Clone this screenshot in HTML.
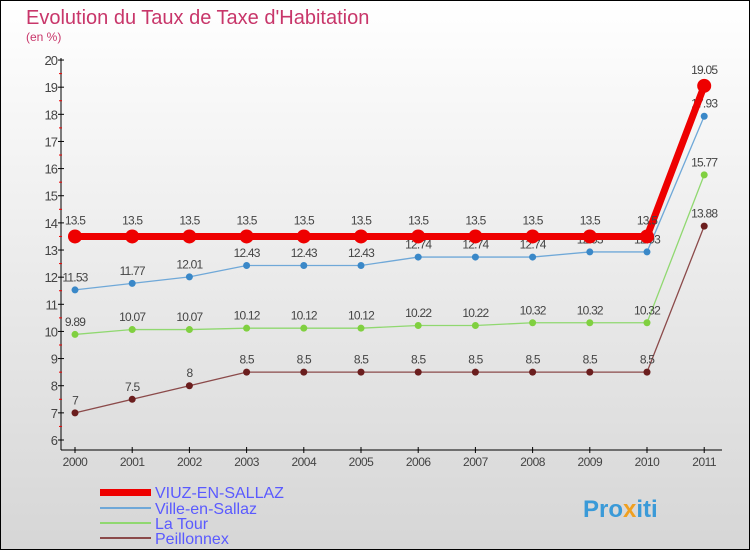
<!DOCTYPE html>
<html><head><meta charset="utf-8"><style>
body{margin:0}
svg{display:block;font-family:"Liberation Sans","DejaVu Sans",sans-serif}
</style></head><body>
<svg id="c" width="750" height="550">
<defs><linearGradient id="bg" x1="0" y1="0" x2="0" y2="1"><stop offset="0" stop-color="#ffffff"/><stop offset="1" stop-color="#d6d6d6"/></linearGradient></defs>
<rect x="0.5" y="0.5" width="749" height="549" fill="url(#bg)" stroke="#000"/>
<text x="26" y="24" font-size="20" fill="#c8366a">Evolution du Taux de Taxe d'Habitation</text>
<text x="26" y="41" font-size="12" fill="#c8366a">(en %)</text>
<g id="axes"></g><g id="series"></g>
<g>
<rect x="100" y="489" width="51" height="7" fill="#e00"/>
<text x="155" y="498" font-size="16" fill="#5a5aff">VIUZ-EN-SALLAZ</text>
<line x1="100" y1="508" x2="151" y2="508" stroke="#6fa8d8" stroke-width="2"/>
<text x="155" y="514" font-size="16" fill="#5a5aff">Ville-en-Sallaz</text>
<line x1="100" y1="523" x2="151" y2="523" stroke="#90d870" stroke-width="2"/>
<text x="155" y="529" font-size="16" fill="#5a5aff">La Tour</text>
<line x1="100" y1="538" x2="151" y2="538" stroke="#8b4a4a" stroke-width="2"/>
<text x="155" y="544" font-size="16" fill="#5a5aff">Peillonnex</text>
</g>
<text x="583" y="517" font-size="24" font-weight="bold" fill="#3a9ad8">Pro<tspan fill="#f0a020">x</tspan>iti</text>
</svg>
<script>
const years=["2000","2001","2002","2003","2004","2005","2006","2007","2008","2009","2010","2011"];
const viuz=[13.5,13.5,13.5,13.5,13.5,13.5,13.5,13.5,13.5,13.5,13.5,19.05];
const ville=[11.53,11.77,12.01,12.43,12.43,12.43,12.74,12.74,12.74,12.93,12.93,17.93];
const latour=[9.89,10.07,10.07,10.12,10.12,10.12,10.22,10.22,10.32,10.32,10.32,15.77];
const peil=[7,7.5,8,8.5,8.5,8.5,8.5,8.5,8.5,8.5,8.5,13.88];
const yTicks=[6,7,8,9,10,11,12,13,14,15,16,17,18,19,20];
const NS="http://www.w3.org/2000/svg";
const X=i=>75+i*57.2, Y=v=>440-(v-6)*27.14;
function mk(t,a,p){const e=document.createElementNS(NS,t);for(const k in a)e.setAttribute(k,a[k]);p.appendChild(e);return e;}
const ax=document.getElementById('axes'),sg=document.getElementById('series');
let l=mk('line',{x1:61,y1:58,x2:61,y2:450,stroke:'#000'},ax);


l=mk('line',{x1:61,y1:450,x2:722,y2:450,stroke:'#000'},ax);


yTicks.forEach(v=>{
 mk('line',{x1:58,y1:Y(v),x2:64,y2:Y(v),stroke:'#000'},ax);
 if(v<20)mk('line',{x1:59,y1:Y(v+0.5),x2:62,y2:Y(v+0.5),stroke:'#e00'},ax);
 const t=mk('text',{x:57,y:Y(v)+5,'font-size':13,fill:'#444','text-anchor':'end','letter-spacing':'-1'},ax);t.textContent=v;
 
 
});
years.forEach((y,i)=>{
 mk('line',{x1:X(i),y1:447,x2:X(i),y2:453,stroke:'#000'},ax);
 const t=mk('text',{x:X(i),y:466,'font-size':12,fill:'#444','text-anchor':'middle','letter-spacing':'-0.5'},ax);t.textContent=y;
 
 
});
function series(vals,color,w,r,name,dot){
 const p=mk('polyline',{points:vals.map((v,i)=>X(i)+','+Y(v)).join(' '),fill:'none',stroke:color,'stroke-width':w},sg);
 
 
 vals.forEach((v,i)=>{
  const c=mk('circle',{cx:X(i),cy:Y(v),r:r,fill:dot||color},sg);
  
  
  const t=mk('text',{x:X(i),y:Y(v)-(r+5),'font-size':12,fill:'#444','text-anchor':'middle','letter-spacing':'-0.8'},sg);
  t.textContent=v;
  
  
 });
}
series(peil,'#8b4a4a',1.3,3.5,'peillonnex','#6b1e1e');
series(latour,'#90d870',1.3,3.5,'latour','#80d040');
series(ville,'#6fa8d8',1.3,3.5,'ville','#3a88c8');
series(viuz,'#e00',7,7,'viuz');
</script>
</body></html>
